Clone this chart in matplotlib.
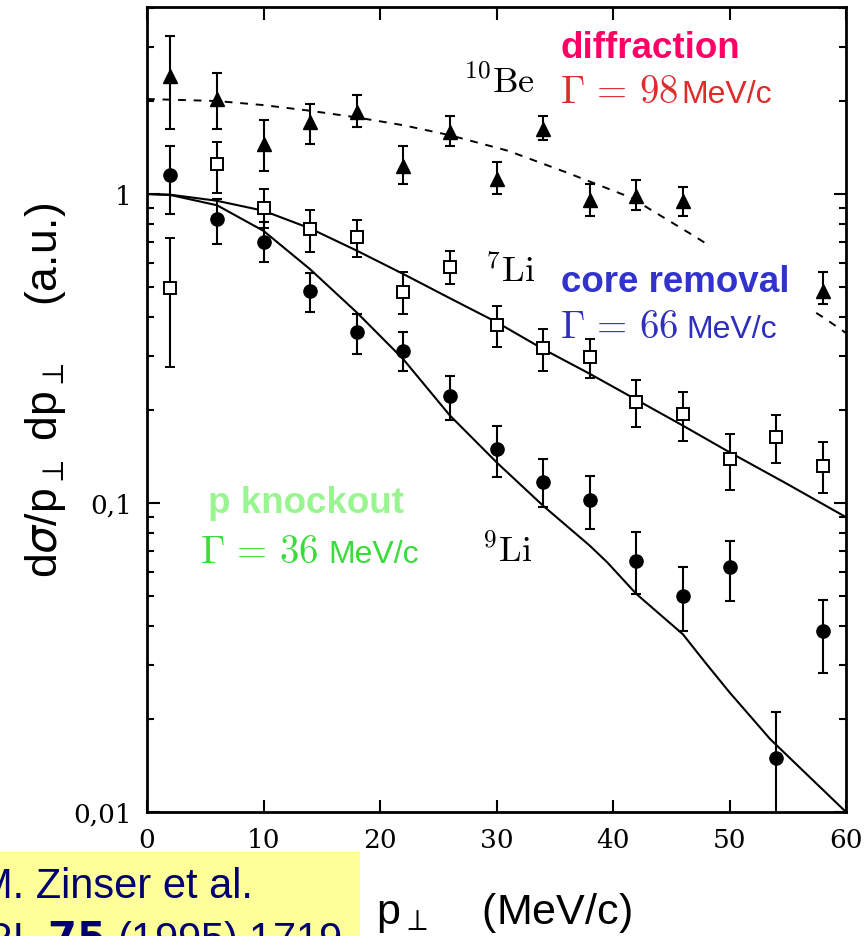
import matplotlib
matplotlib.use("Agg")
import matplotlib.pyplot as plt
from matplotlib.patches import Rectangle
from matplotlib.ticker import LogLocator, NullFormatter, NullLocator

W, H, DPI = 868, 937, 100

# ---- measured transverse-momentum distributions (a.u.) ----
# 10Be, diffraction (filled triangles): value, lower and upper error bar ends
be10_p = [2, 6, 10, 14, 18, 22, 26, 30, 34, 38, 42, 46, 58]
be10_val = [2.41, 2.03, 1.45, 1.71, 1.84, 1.23, 1.59, 1.12, 1.62, 0.96, 0.985, 0.95, 0.485]
be10_lo = [1.62, 1.62, 1.19, 1.45, 1.65, 1.08, 1.43, 1.00, 1.50, 0.85, 0.89, 0.85, 0.44]
be10_hi = [3.25, 2.46, 1.74, 1.96, 2.09, 1.43, 1.79, 1.27, 1.79, 1.08, 1.11, 1.05, 0.56]

# 7Li, core removal (open squares)
li7_p = [2, 6, 10, 14, 18, 22, 26, 30, 34, 38, 42, 46, 50, 54, 58]
li7_val = [0.496, 1.25, 0.899, 0.770, 0.724, 0.483, 0.579, 0.377, 0.317, 0.296, 0.213, 0.194, 0.139, 0.163, 0.132]
li7_lo = [0.275, 1.01, 0.774, 0.651, 0.624, 0.409, 0.511, 0.319, 0.268, 0.253, 0.176, 0.159, 0.110, 0.135, 0.108]
li7_hi = [0.721, 1.47, 1.04, 0.889, 0.826, 0.558, 0.656, 0.433, 0.366, 0.340, 0.250, 0.228, 0.167, 0.192, 0.157]

# 9Li, proton knockout (filled circles)
li9_p = [2, 6, 10, 14, 18, 22, 26, 30, 34, 38, 42, 46, 50, 54, 58]
li9_val = [1.15, 0.830, 0.701, 0.486, 0.357, 0.311, 0.222, 0.150, 0.117, 0.1025, 0.0650, 0.0501, 0.0619, 0.0149, 0.0386]
li9_lo = [0.861, 0.689, 0.601, 0.416, 0.303, 0.268, 0.185, 0.121, 0.0968, 0.0824, 0.0508, 0.0386, 0.0483, 0.009, 0.0282]
li9_hi = [1.43, 0.963, 0.810, 0.555, 0.409, 0.357, 0.257, 0.177, 0.139, 0.1226, 0.0805, 0.0619, 0.0755, 0.0210, 0.0486]

# ---- calculated distributions ----
be10_fit_p = [0, 2, 6, 10, 14, 18, 22, 26, 31, 36, 41.5, 47, 52, 58, 60]
be10_fit = [2.03, 2.02, 2.00, 1.94, 1.86, 1.77, 1.67, 1.55, 1.38, 1.175, 0.975, 0.73, 0.555, 0.40, 0.355]

li7_fit_p = [0, 2, 6, 10, 14, 18, 22, 26, 30, 34, 38, 42, 46, 50, 55, 60]
li7_fit = [1.0, 0.995, 0.951, 0.883, 0.774, 0.656, 0.551, 0.460, 0.385, 0.315, 0.262, 0.216, 0.178, 0.146, 0.115, 0.090]

li9_fit_p = [0, 2, 6, 10, 14, 18, 22, 26, 30, 34, 38, 39.5, 42, 46, 48, 50, 53.5, 60]
li9_fit = [1.0, 0.993, 0.92, 0.760, 0.571, 0.414, 0.292, 0.192, 0.1355, 0.098, 0.0728, 0.0643,
           0.0508, 0.0376, 0.0302, 0.0244, 0.0172, 0.0100]

x_ticks = [0, 10, 20, 30, 40, 50, 60]
y_ticks = [0.01, 0.1, 1]
y_tick_labels = ["0,01", "0,1", "1"]

SANS = ["Liberation Sans", "DejaVu Sans"]
SERIF = ["DejaVu Serif"]

fig = plt.figure(figsize=(W / DPI, H / DPI), dpi=DPI, facecolor="white")
ax = fig.add_axes([147 / W, 1 - 813 / H, (846 - 147) / W, (813 - 8) / H])

ax.set_yscale("log")
ax.set_xlim(0, 60)
ax.set_ylim(0.01, 4.03)

# curves
ax.plot(be10_fit_p, be10_fit, color="black", lw=1.4, ls=(0, (4, 4)), zorder=2)
ax.plot(li7_fit_p, li7_fit, color="black", lw=1.5, zorder=2)
ax.plot(li9_fit_p, li9_fit, color="black", lw=1.5, zorder=2)


def err(vals, lo, hi):
    return [[v - l for v, l in zip(vals, lo)], [h - v for v, h in zip(vals, hi)]]


common = dict(ecolor="black", elinewidth=1.5, capsize=3.5, capthick=1.5, zorder=4)
ax.errorbar(be10_p, be10_val, yerr=err(be10_val, be10_lo, be10_hi), fmt="^",
            color="black", ms=9.5, **common)
ax.errorbar(li7_p, li7_val, yerr=err(li7_val, li7_lo, li7_hi), fmt="s",
            mfc="white", mec="black", mew=1.4, ms=8.5, **common)
ax.errorbar(li9_p, li9_val, yerr=err(li9_val, li9_lo, li9_hi), fmt="o",
            color="black", ms=9.5, **common)

# white panel behind the core-removal annotation
ax.add_patch(Rectangle((0.569, 0.588), 0.382, 0.118, transform=ax.transAxes,
                       facecolor="white", edgecolor="none", zorder=3))

# axes styling
for s in ax.spines.values():
    s.set_linewidth(2)
ax.set_xticks(x_ticks)
ax.set_xticklabels([str(t) for t in x_ticks])
ax.xaxis.set_minor_locator(NullLocator())
ax.set_yticks(y_ticks)
ax.set_yticklabels(y_tick_labels)
ax.yaxis.set_minor_locator(LogLocator(base=10, subs=range(2, 10), numticks=20))
ax.yaxis.set_minor_formatter(NullFormatter())
ax.tick_params(which="both", direction="in", top=True, right=True, width=1.5)
ax.tick_params(which="major", length=9, pad=11)
ax.tick_params(which="minor", length=5)
for lab in ax.get_xticklabels() + ax.get_yticklabels():
    lab.set_family(SERIF)
    lab.set_fontsize(19)


def put(x, y, s, **kw):
    kw.setdefault("va", "baseline")
    return fig.text(x / W, 1 - y / H, s, **kw)


GAMMA = dict(fontsize=28, math_fontfamily="cm", zorder=6)
UNIT = dict(family=SANS, fontsize=23, zorder=6)
TAG = dict(family=SANS, weight="bold", fontsize=26.5, zorder=6)
NUC = dict(fontsize=26, math_fontfamily="cm", color="black", zorder=6)

# annotations
put(560, 58, "diffraction", color="#FF0066", **TAG)
put(463, 93, r"$^{10}\mathrm{Be}$", **NUC)
put(560, 103, r"$\Gamma\,=\,98$", color="#DD2C2C", **GAMMA)
put(681, 103, "MeV/c", color="#DD2C2C", **UNIT)

put(485, 283, r"$^{7}\mathrm{Li}$", **NUC)
put(561, 292, "core removal", color="#3232CC", **TAG)
put(560, 338, r"$\Gamma\,=\,66$", color="#2E2EC0", **GAMMA)
put(686, 338, "MeV/c", color="#2E2EC0", **UNIT)

put(208, 513, "p knockout", color="#99F590", **TAG)
put(200, 563, r"$\Gamma\,=\,36$", color="#3ADB3A", **GAMMA)
put(328, 563, "MeV/c", color="#3ADB3A", **UNIT)
put(482, 562, r"$^{9}\mathrm{Li}$", **NUC)

# axis titles
fig.text(46 / W, 1 - 390 / H, r"d$\sigma$/p$_{\perp}$ dp$_{\perp}$    (a.u.)",
         rotation=90, ha="center", va="center", family=SANS, fontsize=32,
         math_fontfamily="dejavusans")
put(376, 924, r"p$_{\perp}$    (MeV/c)", family=SANS, fontsize=31, math_fontfamily="dejavusans")

# reference box
fig.patches.append(Rectangle((0, 0), 360 / W, (H - 853) / H, transform=fig.transFigure,
                             facecolor="#FFFF99", edgecolor="none", zorder=0))
put(-22, 898, "M. Zinser et al.", family=SANS, fontsize=30, color="#000070")
put(-45, 952, r"PRL $\mathbf{75}$ (1995) 1719", family=SANS, fontsize=30, color="#000070",
    math_fontfamily="dejavusans")

fig.savefig("out.png", dpi=DPI)
